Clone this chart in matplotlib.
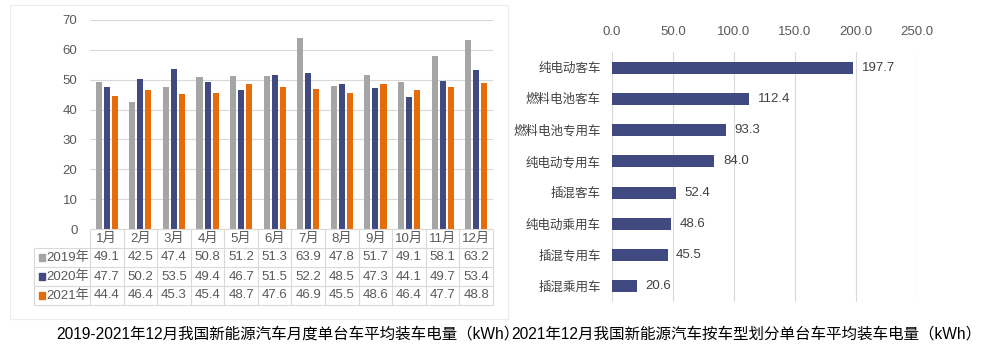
import numpy as np
import matplotlib.pyplot as plt
from matplotlib.patches import Rectangle

plt.rcParams['font.family'] = ['Liberation Sans', 'Noto Sans CJK SC', 'DejaVu Sans']

# left chart data
months = ['1月', '2月', '3月', '4月', '5月', '6月', '7月', '8月', '9月', '10月', '11月', '12月']
years = ['2019年', '2020年', '2021年']
v2019 = [49.1, 42.5, 47.4, 50.8, 51.2, 51.3, 63.9, 47.8, 51.7, 49.1, 58.1, 63.2]
v2020 = [47.7, 50.2, 53.5, 49.4, 46.7, 51.5, 52.2, 48.5, 47.3, 44.1, 49.7, 53.4]
v2021 = [44.4, 46.4, 45.3, 45.4, 48.7, 47.6, 46.9, 45.5, 48.6, 46.4, 47.7, 48.8]
year_colors = ['#A5A5A5', '#404A80', '#E46C0A']

# right chart data
types = ['纯电动客车', '燃料电池客车', '燃料电池专用车', '纯电动专用车',
         '插混客车', '纯电动乘用车', '插混专用车', '插混乘用车']
type_vals = [197.7, 112.4, 93.3, 84.0, 52.4, 48.6, 45.5, 20.6]

title_left = '2019-2021年12月我国新能源汽车月度单台车平均装车电量（kWh）'
title_right = '2021年12月我国新能源汽车按车型划分单台车平均装车电量（kWh）'

W, H = 982, 357
fig = plt.figure(figsize=(W / 100, H / 100), dpi=100)


def box(x0, y0, x1, y1):
    # pixel box (top-left origin) -> figure fraction rect
    return [x0 / W, 1 - y1 / H, (x1 - x0) / W, (y1 - y0) / H]


grid_c = '#D9D9D9'
txt_c = '#595959'

# light frame around left chart
fig.patches.append(Rectangle((10 / W, 1 - 319 / H), 498 / W, 314 / H,
                             transform=fig.transFigure, fill=False,
                             ec='#EBEBEB', lw=0.8))

# ---- left: grouped bars ----
ax = fig.add_axes(box(90, 20, 493, 229))
x = np.arange(len(months))
for i, (vals, c) in enumerate(zip([v2019, v2020, v2021], year_colors)):
    ax.bar(x + (i - 1) * 0.24, vals, width=0.18, color=c, zorder=2)
ax.set_xlim(-0.5, 11.5)
ax.set_ylim(0, 70)
ax.set_yticks(range(0, 71, 10))
ax.set_xticks([])
ax.yaxis.grid(True, color=grid_c, lw=0.8)
ax.set_axisbelow(True)
for s in ax.spines.values():
    s.set_visible(False)
ax.tick_params(axis='y', length=0, pad=9, labelsize=9.5, labelcolor=txt_c)

# data table under the bars
tab = fig.add_axes(box(34, 229, 493, 305))
xl = -0.5 - 56 / 33.6
tab.set_xlim(xl, 11.5)
tab.set_ylim(4, 0)
tab.axis('off')
tab.hlines([0], -0.5, 11.5, color=grid_c, lw=0.8, clip_on=False)
tab.hlines([1, 2, 3, 4], xl, 11.5, color=grid_c, lw=0.8, clip_on=False)
tab.vlines(np.arange(-0.5, 12), 0, 4, color=grid_c, lw=0.8, clip_on=False)
tab.vlines([xl], 1, 4, color=grid_c, lw=0.8, clip_on=False)
for i, m in enumerate(months):
    tab.text(i, 0.5, m, ha='center', va='center', fontsize=9.5, color=txt_c)
for r, (yr, vals, c) in enumerate(zip(years, [v2019, v2020, v2021], year_colors)):
    # legend key square
    tab.add_patch(Rectangle((xl + 5 / 33.6, r + 1.5 - 0.17), 6.5 / 33.6, 0.34,
                            color=c, clip_on=False))
    tab.text(xl + 12.5 / 33.6, r + 1.5, yr, ha='left', va='center', fontsize=9.5, color=txt_c)
    for i, v in enumerate(vals):
        tab.text(i, r + 1.5, f'{v:.1f}', ha='center', va='center', fontsize=9.5, color=txt_c)

# ---- right: horizontal bars ----
ax2 = fig.add_axes(box(612, 52, 917, 302))
y = np.arange(len(types))
ax2.barh(y, type_vals, height=0.38, color='#404A80', zorder=2)
ax2.set_ylim(len(types) - 0.5, -0.5)
ax2.set_xlim(0, 250)
ax2.xaxis.tick_top()
ticks = np.arange(0, 251, 50)
ax2.set_xticks(ticks)
ax2.set_xticklabels([f'{t:.1f}' for t in ticks])
ax2.set_yticks(y)
ax2.set_yticklabels(types)
ax2.xaxis.grid(True, color=grid_c, lw=0.8)
ax2.set_axisbelow(True)
for s in ax2.spines.values():
    s.set_visible(False)
ax2.tick_params(axis='x', length=0, pad=10, labelsize=9.5, labelcolor=txt_c)
ax2.tick_params(axis='y', length=0, pad=8, labelsize=9, labelcolor='#404040')
for yi, v in zip(y, type_vals):
    ax2.text(v + 7, yi, f'{v:.1f}', ha='left', va='center', fontsize=9.5, color='#404040')

# captions
fig.text(288 / W, 1 - 334 / H, title_left, ha='center', va='center', fontsize=11.2)
fig.text(746 / W, 1 - 334 / H, title_right, ha='center', va='center', fontsize=11.2)

fig.savefig('out.png', dpi=100)
